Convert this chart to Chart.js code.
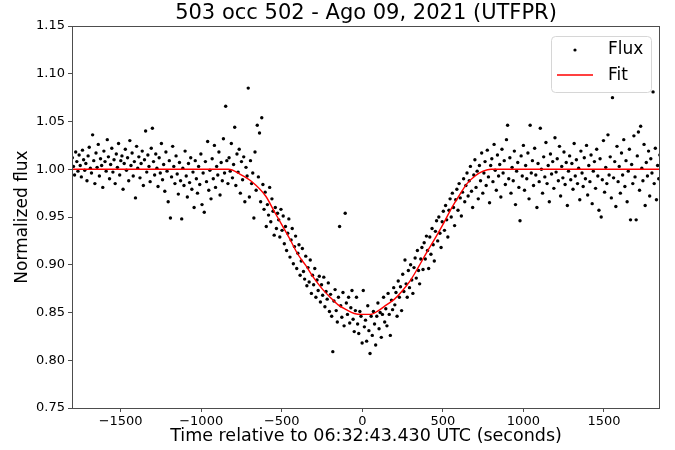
<!DOCTYPE html>
<html>
<head>
<meta charset="utf-8">
<title>503 occ 502</title>
<script src="https://cdn.jsdelivr.net/npm/chart.js@4.4.1/dist/chart.umd.min.js"></script>
<style>
  html, body { margin: 0; padding: 0; background: #fff; }
  #wrap { width: 675px; height: 450px; }
</style>
</head>
<body>
<div id="wrap"><canvas id="chart" width="675" height="450"></canvas></div>
<script>
// light curve points, [time (s), normalized flux]
const baseLeftA = [
  [-1800,1.012],[-1793,1.003],[-1786,0.994],[-1779,1.018],[-1772,1.008],[-1765,0.998],[-1758,1.015],[-1751,1.004],
  [-1744,0.992],[-1737,1.020],[-1730,1.010],[-1723,0.999],[-1716,1.006],[-1709,0.988],[-1702,1.014],[-1695,1.023],
  [-1688,1.001],[-1681,0.996],[-1674,1.036],[-1667,1.009],[-1660,0.985],[-1653,1.017],[-1646,1.002],[-1639,1.026],
  [-1632,0.993],[-1625,1.011],[-1618,1.004],[-1611,0.981],[-1604,1.019],[-1597,1.008],[-1590,0.998],[-1583,1.031],
  [-1576,1.013],[-1569,0.990],[-1562,1.005],[-1555,1.022],[-1548,0.997],[-1541,1.010],[-1534,0.985],[-1527,1.016],
  [-1520,1.002],[-1513,1.027],[-1506,0.994],[-1499,1.009],[-1492,1.014],[-1485,0.979],[-1478,1.006],[-1471,1.021],
  [-1464,0.999],[-1457,1.012],[-1450,0.988],[-1443,1.030],[-1436,1.004],[-1429,1.017],[-1422,0.993],[-1415,1.008],
  [-1408,0.970],[-1401,1.024],[-1394,1.001],[-1387,1.013],[-1380,0.991],[-1373,1.006],[-1366,1.019],[-1359,0.983],
  [-1352,1.010],[-1345,1.040],[-1338,0.997],[-1331,1.015],[-1324,1.003],[-1317,0.987],[-1310,1.022],[-1303,1.043]
];
const baseLeftB = [
  [-1296,1.008],[-1289,0.994],[-1282,1.016],[-1275,1.001],[-1268,0.982],[-1261,1.012],[-1254,0.996],[-1247,1.027],
  [-1240,0.989],[-1233,1.005],[-1226,0.977],[-1219,1.018],[-1212,0.998],[-1205,0.966],[-1198,1.009],[-1191,0.949],
  [-1184,0.992],[-1177,1.024],[-1170,1.003],[-1163,0.985],[-1156,1.014],[-1149,0.995],[-1142,0.974],[-1135,1.007],
  [-1128,0.988],[-1121,0.948],[-1114,1.001],[-1107,0.983],[-1100,1.019],[-1093,0.993],[-1086,0.971],[-1079,1.006],
  [-1072,0.986],[-1065,1.012],[-1058,0.979],[-1051,0.997],[-1044,0.960],[-1037,1.009],[-1030,0.990],[-1023,0.975],
  [-1016,1.003],[-1009,0.984],[-1002,1.016],[-995,0.963],[-988,0.996],[-981,0.955],[-974,1.008],[-967,0.987],
  [-960,1.029],[-953,0.978],[-946,0.999],[-939,0.969],[-932,1.011],[-925,0.990],[-918,1.025],[-911,0.981],
  [-904,1.003],[-897,0.994],[-890,1.018],[-883,0.973],[-876,1.007],[-869,0.988],[-862,1.032],[-855,0.996],
  [-848,1.066],[-841,1.009],[-834,0.985]
];
const ingressA = [
  [-827,1.012],[-820,0.998],[-813,1.027],[-806,0.991],[-799,1.005],[-792,1.044],[-785,0.983],[-778,1.016],
  [-771,0.997],[-764,1.021],[-757,0.975],[-750,1.008],[-743,0.989],[-736,1.013],[-729,0.966],[-722,1.002],
  [-715,0.993],[-708,1.085],[-701,0.971],[-694,1.009],[-687,0.985],[-680,0.996],[-673,0.949],[-666,1.018],
  [-659,0.978],[-652,1.046],[-645,0.992],[-638,1.038],[-631,0.966],[-624,1.054],[-617,0.984],[-610,0.958],
  [-603,0.976],[-596,0.940],[-589,0.963],[-582,0.952],[-575,0.981],[-568,0.945],[-561,0.969],[-554,0.956],
  [-547,0.931],[-540,0.960],[-533,0.938],[-526,0.954],[-519,0.947],[-512,0.929],[-505,0.958]
];
const ingressB = [
  [-498,0.936],[-491,0.951],[-484,0.922],[-477,0.940],[-470,0.915],[-463,0.933],[-456,0.948],[-449,0.908],
  [-442,0.926],[-435,0.938],[-428,0.901],[-421,0.919],[-414,0.930],[-407,0.896],[-400,0.912],[-393,0.921],
  [-386,0.889],[-379,0.904],[-372,0.917],[-365,0.893],[-358,0.885],[-351,0.909],[-344,0.878],[-337,0.897],
  [-330,0.882],[-323,0.905],[-316,0.870],[-309,0.889],[-302,0.879],[-295,0.896],[-288,0.866],[-281,0.884],
  [-274,0.873],[-267,0.888],[-260,0.861],[-253,0.879],[-246,0.868],[-239,0.887],[-232,0.856],[-225,0.872],
  [-218,0.864],[-211,0.881],[-204,0.851]
];
const bottom = [
  [-197,0.869],[-190,0.846],[-183,0.809],[-176,0.862],[-169,0.874],[-162,0.852],[-155,0.840],[-148,0.866],
  [-141,0.940],[-134,0.857],[-127,0.845],[-120,0.871],[-113,0.836],[-106,0.954],[-99,0.860],[-92,0.848],
  [-85,0.866],[-78,0.839],[-71,0.855],[-64,0.873],[-57,0.843],[-50,0.830],[-43,0.852],[-36,0.866],
  [-29,0.838],[-22,0.828],[-15,0.851],[-8,0.846],[-1,0.818],[6,0.873],[13,0.835],[20,0.842],
  [27,0.820],[34,0.857],[41,0.831],[48,0.807],[55,0.846],[62,0.826],[69,0.851],[76,0.838],
  [83,0.816],[90,0.846],[97,0.860],[104,0.833],[111,0.850],[118,0.824],[125,0.848],[132,0.866],
  [139,0.840],[146,0.854],[153,0.836],[160,0.870],[167,0.848],[174,0.826],[181,0.863],[188,0.853],[195,0.876]
];
const egress = [
  [202,0.858],[209,0.871],[216,0.846],[223,0.883],[230,0.866],[237,0.877],[244,0.852],[251,0.890],
  [258,0.872],[265,0.905],[272,0.880],[279,0.866],[286,0.894],[293,0.876],[300,0.900],[307,0.884],
  [314,0.870],[321,0.897],[328,0.907],[335,0.886],[342,0.915],[349,0.894],[356,0.880],[363,0.906],
  [370,0.918],[377,0.895],[384,0.923],[391,0.906],[398,0.930],[405,0.915],[412,0.896],[419,0.929],
  [426,0.911],[433,0.938],[440,0.921],[447,0.904],[454,0.935],[461,0.946],[468,0.925],[475,0.950],
  [482,0.933],[489,0.918],[496,0.945],[503,0.956],[510,0.936],[517,0.962],[524,0.947],[531,0.929],
  [538,0.957],[545,0.969],[552,0.950],[559,0.975],[566,0.960],[573,0.941],[580,0.968],[587,0.979],
  [594,0.957],[601,0.985],[608,0.970],[615,0.951],[622,0.976],[629,0.990],[636,0.966],[643,0.983],
  [650,0.996],[657,0.972],[664,0.988],[671,1.003],[678,0.977],[685,0.960],[692,0.994],[699,1.010],
  [706,0.981],[713,0.998],[720,0.969],[727,1.004],[734,0.988],[741,1.017],[748,0.975],[755,0.996],
  [762,1.008],[769,0.983],[776,1.020],[783,0.992],[790,0.965],[797,1.004]
];
const baseRightA = [
  [804,1.011],[811,0.987],[818,1.026],[825,0.999],[832,0.978],[839,1.015],[846,0.993],[853,1.005],
  [860,0.971],[867,1.021],[874,0.996],[881,1.009],[888,0.984],[895,1.031],[902,1.046],[909,0.990],
  [916,1.012],[923,0.975],[930,1.002],[937,0.988],[944,1.019],[951,0.963],[958,0.998],[965,1.007],
  [972,0.981],[979,0.946],[986,1.014],[993,0.993],[1000,1.025],[1007,0.978],[1014,1.004],[1021,0.990],
  [1028,1.017],[1035,0.969],[1042,1.046],[1049,0.996],[1056,1.009],[1063,0.983],[1070,1.022],[1077,0.994],
  [1084,0.960],[1091,1.006],[1098,0.987],[1105,1.043],[1112,1.000],[1119,0.975],[1126,1.013],[1133,0.992],
  [1140,1.028],[1147,0.985],[1154,1.004],[1161,0.966],[1168,1.016],[1175,0.995],[1182,1.008],[1189,0.980],
  [1196,1.033],[1203,0.997],[1210,1.011],[1217,0.988],[1224,1.024],[1231,0.972],[1238,1.003],[1245,0.991],
  [1252,1.018],[1259,0.984],[1266,1.007],[1273,0.962],[1280,0.998],[1287,1.014],[1294,0.989]
];
const baseRightB = [
  [1301,1.006],[1308,0.979],[1315,1.027],[1322,0.993],[1329,1.010],[1336,0.985],[1343,1.001],[1350,0.968],
  [1357,1.019],[1364,0.996],[1371,0.982],[1378,1.012],[1385,0.990],[1392,1.025],[1399,0.973],[1406,1.004],
  [1413,0.987],[1420,1.015],[1427,0.964],[1434,0.998],[1441,1.008],[1448,0.980],[1455,1.021],[1462,0.993],
  [1469,0.957],[1476,1.011],[1483,0.950],[1490,0.989],[1497,1.030],[1504,0.976],[1511,1.002],[1518,0.985],
  [1525,1.036],[1532,0.994],[1539,1.013],[1546,0.970],[1553,1.075],[1560,0.991],[1567,1.008],[1574,0.961],
  [1581,1.024],[1588,0.987],[1595,1.003],[1602,0.975],[1609,1.017],[1616,0.994],[1623,1.031],[1630,0.982],
  [1637,1.009],[1644,0.966],[1651,0.998],[1658,1.021],[1665,0.947],[1672,1.005],[1679,0.985],[1686,1.035],
  [1693,0.992],[1700,0.947],[1707,1.014],[1714,1.039],[1721,0.978],[1728,1.045],[1735,1.001],[1742,0.988],
  [1749,1.026],[1756,0.962],[1763,1.007],[1770,0.993],[1777,1.019],[1784,0.972],[1791,1.011],[1798,0.996],
  [1805,1.081],[1812,0.985],[1819,1.022],[1826,0.968],[1833,1.004],[1840,0.990],[1847,1.015]
];

// fitted model
const fitTime = [-1802, -830, -760, -685, -600, -550, -500, -450, -400, -350, -300, -250, -200, -150, -100, -50, 0,
                 50, 100, 150, 200, 250, 300, 350, 400, 450, 500, 550, 600, 650, 700, 750, 800, 1848];
const fitFlux = [1.000, 1.000, 0.995, 0.987, 0.972, 0.957, 0.942, 0.927, 0.911, 0.899, 0.886, 0.875, 0.866, 0.858, 0.853, 0.849, 0.848,
                 0.848, 0.852, 0.858, 0.864, 0.873, 0.884, 0.898, 0.913, 0.927, 0.942, 0.958, 0.972, 0.985, 0.993, 0.998, 1.000, 1.000];

const xTicks = [-1500, -1000, -500, 0, 500, 1000, 1500];
const yTicks = [0.75, 0.80, 0.85, 0.90, 0.95, 1.00, 1.05, 1.10, 1.15];
const xRange = [-1802, 1848];
const yRange = [0.75, 1.15];

const titleText = '503 occ 502 - Ago 09, 2021 (UTFPR)';
const FONT = "'DejaVu Sans', 'Liberation Sans', sans-serif";

const fluxPoints = [].concat(baseLeftA, baseLeftB, ingressA, ingressB, bottom, egress, baseRightA, baseRightB)
  .map(p => ({x: p[0], y: p[1]}));
const fitPoints = fitTime.map((t, i) => ({x: t, y: fitFlux[i]}));

// frame, title and the legend box (drawn by hand to sit inside the axes like matplotlib)
const decorPlugin = {
  id: 'decor',
  afterDraw(chart) {
    const ctx = chart.ctx;
    const a = chart.chartArea;
    ctx.save();
    ctx.strokeStyle = '#4d4d4d';
    ctx.lineWidth = 1;
    ctx.strokeRect(a.left + 0.5, a.top + 0.5, a.right - a.left - 1, a.bottom - a.top);

    ctx.fillStyle = '#000';
    ctx.font = '21px ' + FONT;
    ctx.textAlign = 'center';
    ctx.textBaseline = 'middle';
    ctx.fillText(titleText, (a.left + a.right) / 2, 14);

    // legend
    const lx = a.right - 109, ly = a.top + 10, lw = 100, lh = 56;
    ctx.beginPath();
    ctx.roundRect(lx + 0.5, ly + 0.5, lw, lh, 4);
    ctx.fillStyle = 'rgba(255,255,255,0.8)';
    ctx.fill();
    ctx.strokeStyle = '#d6d6d6';
    ctx.stroke();

    const ds = chart.data.datasets;
    ctx.font = '17px ' + FONT;
    ctx.textAlign = 'left';
    ctx.fillStyle = '#000';
    ctx.beginPath();
    ctx.arc(lx + 24, ly + 14, 1.6, 0, Math.PI * 2);
    ctx.fill();
    ctx.fillText(ds[0].label, lx + 57, ly + 14);

    ctx.strokeStyle = ds[1].borderColor;
    ctx.lineWidth = 1.4;
    ctx.beginPath();
    ctx.moveTo(lx + 6, ly + 39);
    ctx.lineTo(lx + 42, ly + 39);
    ctx.stroke();
    ctx.fillText(ds[1].label, lx + 57, ly + 40);
    ctx.restore();
  }
};

const tickMinus = v => String(v).replace('-', '\u2212');

new Chart(document.getElementById('chart'), {
  type: 'scatter',
  data: {
    datasets: [
      {
        label: 'Flux',
        data: fluxPoints,
        backgroundColor: '#000',
        borderColor: '#000',
        pointRadius: 1.7,
        pointBorderWidth: 0,
        order: 1
      },
      {
        type: 'line',
        label: 'Fit',
        data: fitPoints,
        borderColor: '#ff0000',
        borderWidth: 1.4,
        pointRadius: 0,
        fill: false,
        cubicInterpolationMode: 'monotone',
        order: 0
      }
    ]
  },
  options: {
    responsive: false,
    animation: false,
    layout: { padding: { top: 26, right: 15, left: 0, bottom: 0 } },
    plugins: {
      legend: { display: false },
      title: { display: false },
      tooltip: { enabled: false }
    },
    scales: {
      x: {
        type: 'linear',
        min: xRange[0],
        max: xRange[1],
        afterBuildTicks: s => { s.ticks = xTicks.map(v => ({ value: v })); },
        afterFit: s => { s.height = 42; },
        grid: { display: true, drawOnChartArea: false, drawTicks: true, tickLength: 4, color: '#4d4d4d' },
        border: { display: false },
        ticks: { color: '#000', font: { family: FONT, size: 13 }, padding: 2, maxRotation: 0, callback: tickMinus },
        title: { display: true, text: 'Time relative to 06:32:43.430 UTC (seconds)', color: '#000',
                 font: { family: FONT, size: 17.5 }, padding: { top: 0, bottom: 3 } }
      },
      y: {
        type: 'linear',
        min: yRange[0],
        max: yRange[1],
        afterBuildTicks: s => { s.ticks = yTicks.map(v => ({ value: v })); },
        afterFit: s => { s.width = 72; },
        grid: { display: true, drawOnChartArea: false, drawTicks: true, tickLength: 4, color: '#4d4d4d' },
        border: { display: false },
        ticks: { color: '#000', font: { family: FONT, size: 13 }, padding: 3, callback: v => v.toFixed(2) },
        title: { display: true, text: 'Normalized flux', color: '#000',
                 font: { family: FONT, size: 17 }, padding: { top: 12, bottom: 0 } }
      }
    }
  },
  plugins: [decorPlugin]
});
</script>
</body>
</html>
